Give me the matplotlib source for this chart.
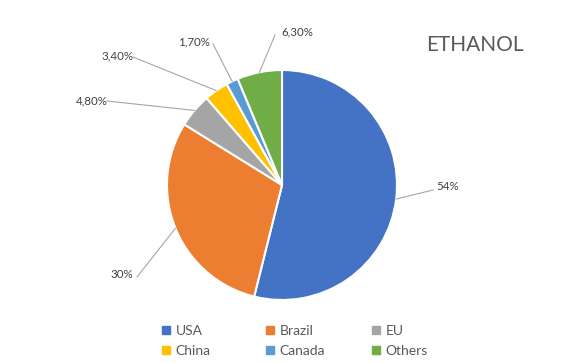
import numpy as np
import matplotlib.pyplot as plt
from matplotlib.lines import Line2D

countries = ['USA', 'Brazil', 'EU', 'China', 'Canada', 'Others']
shares = [54, 30, 4.8, 3.4, 1.7, 6.3]
labels = ['54%', '30%', '4,80%', '3,40%', '1,70%', '6,30%']
colors = ['#4472C4', '#ED7D31', '#A5A5A5', '#FFC000', '#5B9BD5', '#70AD47']

# label text position (pixels, y from top) and where the leader line bends
label_pos = [(448, 187), (122, 275), (92, 101), (117, 56), (194, 42), (297, 32)]
elbow_pos = [(433, 190), (137, 277), (107, 101), (133, 57), (213, 44), (275, 35)]

W, H = 562, 363
plt.rcParams['font.family'] = ['Lato', 'DejaVu Sans']
fig = plt.figure(figsize=(W / 100, H / 100), dpi=100)
ax = fig.add_axes([0, 0, 1, 1])

cx, cy, r = 282, H - 185, 115
wedges, _ = ax.pie(shares, colors=colors, startangle=90, counterclock=False,
                   center=(cx, cy), radius=r, frame=True,
                   wedgeprops=dict(edgecolor='white', linewidth=1.5))
ax.set_xlim(0, W)
ax.set_ylim(0, H)
ax.set_aspect('equal')
ax.axis('off')

for w, lab, (lx, ly), (ex, ey) in zip(wedges, labels, label_pos, elbow_pos):
    ang = np.deg2rad((w.theta1 + w.theta2) / 2)
    px = cx + r * np.cos(ang)
    py = cy + r * np.sin(ang)
    ax.plot([px, ex], [py, H - ey], color='#A6A6A6', lw=0.8)
    ax.text(lx, H - ly, lab, ha='center', va='center', fontsize=8.3, color='#404040')

ax.text(475, H - 45, 'ETHANOL', ha='center', va='center', fontsize=15, color='#595959')

# legend: three columns, each its own legend so they sit at even spacing
col_x = [159, 263, 369]
for c in range(3):
    idx = [c, c + 3]
    handles = [Line2D([], [], marker='s', ls='', color=colors[i], markersize=6) for i in idx]
    leg = fig.legend(handles, [countries[i] for i in idx], loc='upper left',
                     bbox_to_anchor=(col_x[c] / W, 1 - 325 / H), frameon=False,
                     fontsize=10, handletextpad=0.2, labelspacing=0.55,
                     labelcolor='#595959', handlelength=1.0,
                     borderpad=0, borderaxespad=0)

fig.savefig('out.png', dpi=100)
